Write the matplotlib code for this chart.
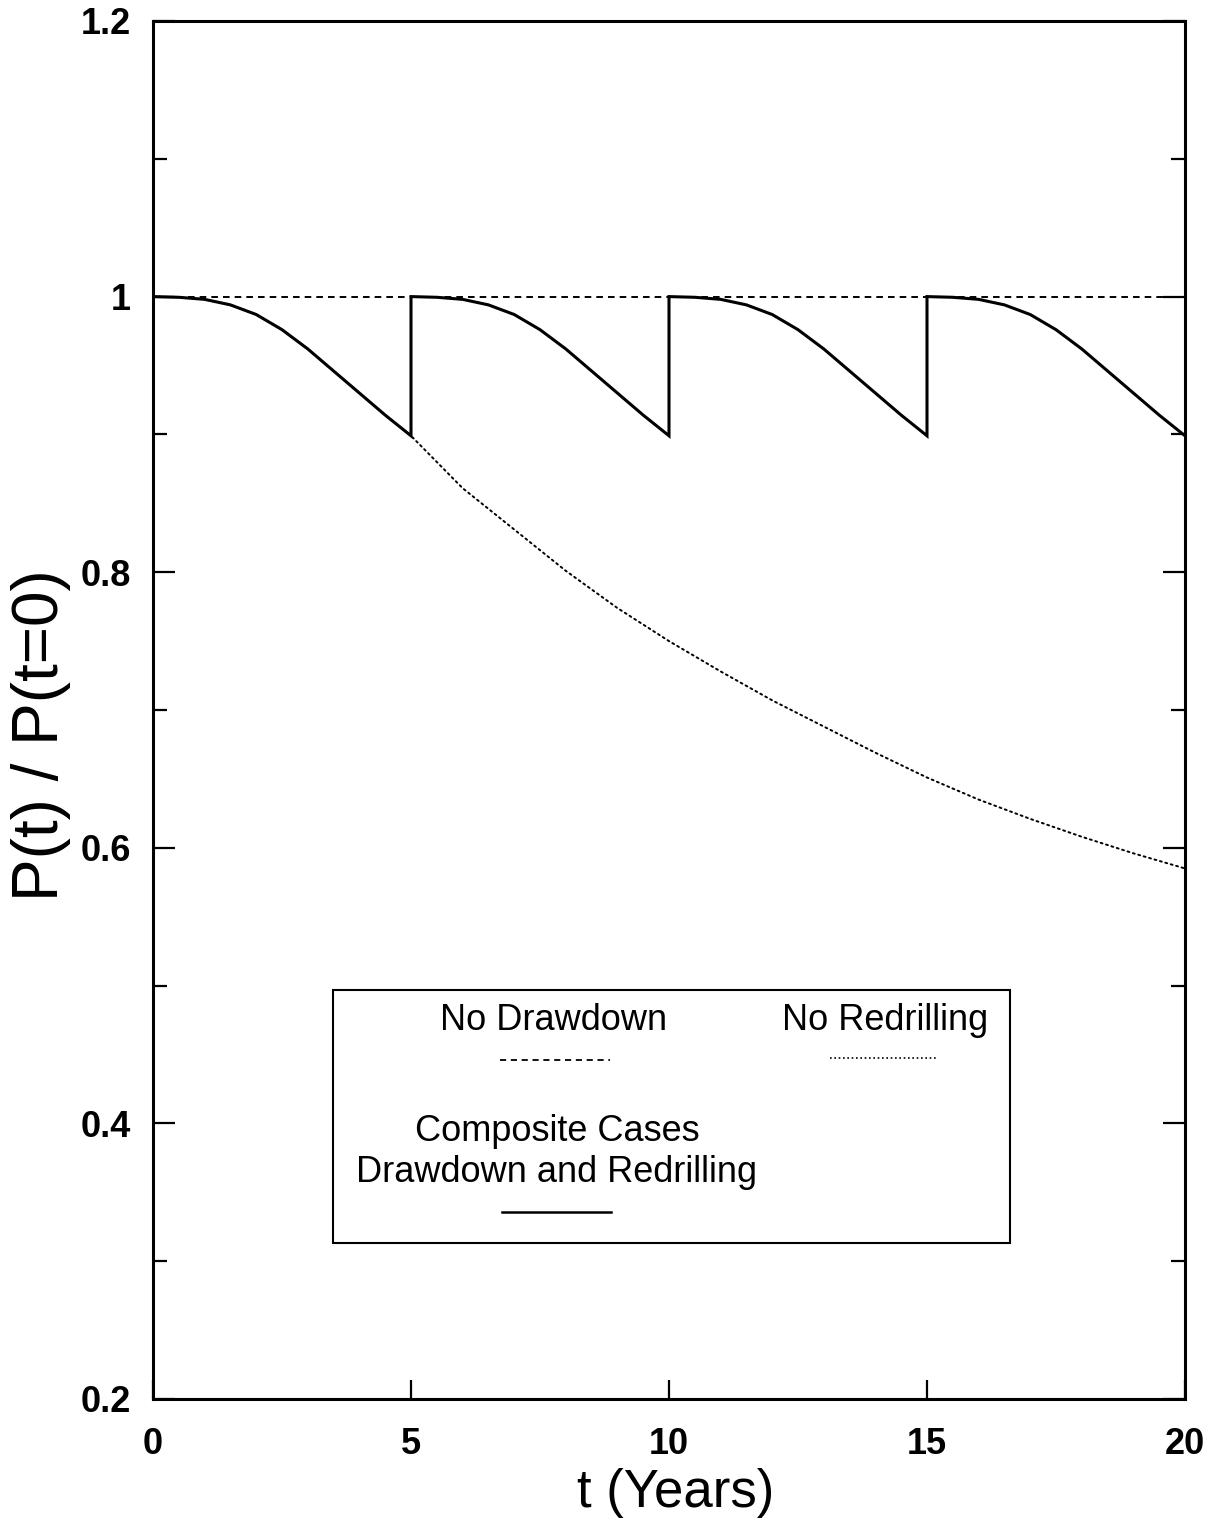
import matplotlib
matplotlib.use("Agg")
import matplotlib.pyplot as plt
from matplotlib.lines import Line2D
from matplotlib.patches import Rectangle
from matplotlib.ticker import MultipleLocator

plt.rcParams['font.family'] = ['Liberation Sans', 'DejaVu Sans']

# ---- data ----
no_drawdown_t = [0, 20]
no_drawdown_y = [1.0, 1.0]

no_redrill_t = [0, 0.5, 1, 1.5, 2, 2.5, 3, 3.5, 4, 4.5, 5,
                6, 7, 8, 9, 10, 11, 12, 13, 14, 15, 16, 17, 18, 19, 20]
no_redrill_y = [1.0, 0.9995, 0.998, 0.994, 0.987, 0.976, 0.962, 0.946, 0.930, 0.914, 0.899,
                0.861, 0.831, 0.801, 0.774, 0.750, 0.728, 0.707, 0.688, 0.669,
                0.651, 0.635, 0.621, 0.608, 0.596, 0.585]

composite_t = [0, 0.5, 1, 1.5, 2, 2.5, 3, 3.5, 4, 4.5, 5,
               5, 5.5, 6, 6.5, 7, 7.5, 8, 8.5, 9, 9.5, 10,
               10, 10.5, 11, 11.5, 12, 12.5, 13, 13.5, 14, 14.5, 15,
               15, 15.5, 16, 16.5, 17, 17.5, 18, 18.5, 19, 19.5, 20]
composite_y = [1.0, 0.9995, 0.998, 0.994, 0.987, 0.976, 0.962, 0.946, 0.930, 0.914, 0.899,
               1.0, 0.9995, 0.998, 0.994, 0.987, 0.976, 0.962, 0.946, 0.930, 0.914, 0.899,
               1.0, 0.9995, 0.998, 0.994, 0.987, 0.976, 0.962, 0.946, 0.930, 0.914, 0.899,
               1.0, 0.9995, 0.998, 0.994, 0.987, 0.976, 0.962, 0.946, 0.930, 0.914, 0.899]

x_ticks = [0, 5, 10, 15, 20]
y_ticks = [0.2, 0.4, 0.6, 0.8, 1.0, 1.2]
y_tick_labels = ["0.2", "0.4", "0.6", "0.8", "1", "1.2"]

legend_no_drawdown = "No Drawdown"
legend_no_redrill = "No Redrilling"
legend_composite = "Composite Cases\nDrawdown and Redrilling"

# ---- figure ----
W, H = 1222, 1521
fig = plt.figure(figsize=(W / 100, H / 100), dpi=100)
L, R, T, B = 153, 1185, 21, 1399
ax = fig.add_axes([L / W, (H - B) / H, (R - L) / W, (B - T) / H])

ax.plot(no_redrill_t, no_redrill_y, color='black', lw=1.4,
        linestyle=(0, (1, 1.9)), solid_capstyle='round', dash_capstyle='round')
ax.plot(no_drawdown_t, no_drawdown_y, color='black', lw=1.4,
        dashes=(3.4, 2.6))
ax.plot(composite_t, composite_y, color='black', lw=2.2, solid_joinstyle='miter')

ax.set_xlim(0, 20)
ax.set_ylim(0.2, 1.2)
ax.set_xticks(x_ticks)
ax.set_xticklabels([str(v) for v in x_ticks])
ax.set_yticks(y_ticks)
ax.set_yticklabels(y_tick_labels)
ax.yaxis.set_minor_locator(MultipleLocator(0.1))

for s in ax.spines.values():
    s.set_linewidth(2.2)

ax.tick_params(axis='y', which='major', direction='in', length=16, width=1.6,
               left=True, right=True, labelsize=26, pad=16)
ax.tick_params(axis='y', which='minor', direction='in', length=10, width=1.6,
               left=True, right=True)
ax.tick_params(axis='x', which='major', direction='in', length=14, width=1.6,
               bottom=True, top=False, labelsize=26, pad=20)
for lab in ax.get_xticklabels() + ax.get_yticklabels():
    lab.set_fontweight('bold')

ax.set_xlabel("t (Years)", fontsize=38)
ax.set_ylabel("P(t) / P(t=0)", fontsize=46)
ax.xaxis.set_label_coords(0.506, -0.050)
ax.yaxis.set_label_coords(-0.079, 0.482)

# ---- legend box drawn manually ----
def fx(px):
    return px / W

def fy(py):
    return 1 - py / H

box = Rectangle((fx(333), fy(1243)), fx(1010) - fx(333), fy(990) - fy(1243),
                transform=fig.transFigure, fill=False, lw=1.5, edgecolor='black')
fig.patches.append(box)

fs_leg = 26
fig.text(fx(554), fy(1021), legend_no_drawdown, ha='center', va='center', fontsize=fs_leg)
fig.text(fx(885), fy(1021), legend_no_redrill, ha='center', va='center', fontsize=fs_leg)
fig.text(fx(557), fy(1152), legend_composite, ha='center', va='center', fontsize=fs_leg,
         linespacing=1.2)

fig.lines.append(Line2D([fx(500), fx(610)], [fy(1060), fy(1060)], transform=fig.transFigure,
                        color='black', lw=1.3, dashes=(3.4, 2.6)))
fig.lines.append(Line2D([fx(830), fx(937)], [fy(1058), fy(1058)], transform=fig.transFigure,
                        color='black', lw=1.2, linestyle=(0, (1, 1.6))))
fig.lines.append(Line2D([fx(502), fx(611)], [fy(1212), fy(1212)], transform=fig.transFigure,
                        color='black', lw=1.8))

fig.savefig("out.png", dpi=100)
